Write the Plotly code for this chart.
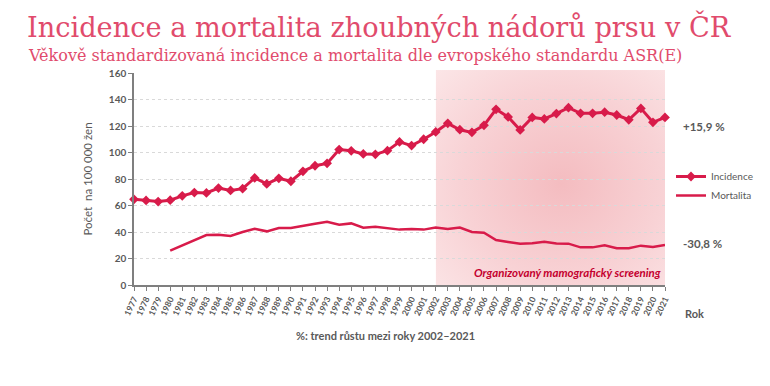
import base64
import plotly.graph_objects as go

years = list(range(1977, 2022))
incidence = [64.7, 63.8, 63.0, 64.0, 67.3, 69.8, 69.5, 73.2, 71.4, 72.7,
             80.8, 76.3, 80.5, 78.3, 85.8, 90.0, 91.8, 102.2, 101.3, 98.9,
             98.6, 101.4, 108.0, 105.2, 110.0, 115.5, 122.0, 117.2, 115.2, 120.5,
             132.6, 126.8, 117.0, 126.5, 125.3, 129.4, 133.8, 129.6, 129.6, 130.4,
             128.3, 124.7, 133.3, 122.8, 126.5]
mort_years = list(range(1980, 2022))
mortalita = [26.0, 30.0, 34.0, 37.7, 38.0, 37.0, 40.0, 42.4, 40.5, 43.0,
             43.0, 44.8, 46.2, 47.8, 45.5, 46.5, 43.3, 44.0, 42.8, 41.8,
             42.2, 41.8, 43.3, 42.3, 43.3, 40.0, 39.5, 34.0, 32.5, 31.2,
             31.5, 32.7, 31.3, 31.2, 28.4, 28.4, 30.0, 27.7, 27.7, 29.7,
             28.7, 30.2]
y_ticks = [0, 20, 40, 60, 80, 100, 120, 140, 160]

RED = "#D81B4A"
GRAY = "#595959"
FONT = "Lato"
SERIF = "DejaVu Serif"

svg = """<svg xmlns='http://www.w3.org/2000/svg' width='229' height='215' viewBox='0 0 229 215' preserveAspectRatio='none'>
<defs><radialGradient id='g' cx='0.55' cy='0.53' r='0.8'>
<stop offset='0' stop-color='#F4BCC0'/>
<stop offset='0.55' stop-color='#F8D2D5'/>
<stop offset='1' stop-color='#FCE8E9'/>
</radialGradient></defs>
<rect x='0' y='0' width='229' height='215' fill='url(#g)'/>
</svg>"""
src = "data:image/svg+xml;base64," + base64.b64encode(svg.encode()).decode()

fig = go.Figure()
fig.add_trace(go.Scatter(
    x=years, y=incidence, name="Incidence", mode="lines+markers",
    line=dict(color=RED, width=3),
    marker=dict(symbol="diamond", size=7.5, color=RED),
    cliponaxis=False,
))
fig.add_trace(go.Scatter(
    x=mort_years, y=mortalita, name="Mortalita", mode="lines",
    line=dict(color=RED, width=2.5),
    cliponaxis=False,
))

fig.add_layout_image(dict(
    source=src, xref="x", yref="paper", x=2002, y=1.014,
    sizex=19, sizey=1.014, sizing="stretch", xanchor="left", yanchor="top",
    layer="below",
))

annots = [
    dict(text="Incidence a mortalita zhoubných nádorů prsu v ČR", xref="paper", yref="paper",
         x=(25 - 134) / 531, y=(285 - 26) / 212, xanchor="left", yanchor="middle",
         showarrow=False, font=dict(family=SERIF, size=27.2, color="#E14B6C")),
    dict(text="Věkově standardizovaná incidence a mortalita dle evropského standardu ASR(E)",
         xref="paper", yref="paper",
         x=(26 - 134) / 531, y=(285 - 56) / 212, xanchor="left", yanchor="middle",
         showarrow=False, font=dict(family=SERIF, size=16.0, color="#E14B6C")),
    dict(text="<b>+15,9 %</b>", xref="paper", yref="y", x=(681 - 134) / 531, y=120,
         xanchor="left", yanchor="middle", showarrow=False,
         font=dict(family=FONT, size=11.5, color=GRAY)),
    dict(text="<b>-30,8 %</b>", xref="paper", yref="y", x=(681 - 134) / 531, y=31.7,
         xanchor="left", yanchor="middle", showarrow=False,
         font=dict(family=FONT, size=11.5, color=GRAY)),
    dict(text="<b>Rok</b>", xref="paper", yref="paper", x=(683 - 134) / 531, y=(285 - 313) / 212,
         xanchor="left", yanchor="middle", showarrow=False,
         font=dict(family=FONT, size=11, color=GRAY)),
    dict(text="<b>%: trend růstu mezi roky 2002–2021</b>", xref="paper", yref="paper",
         x=(385 - 134) / 531, y=(285 - 335) / 212,
         xanchor="center", yanchor="middle", showarrow=False,
         font=dict(family=FONT, size=11, color=GRAY)),
    dict(text="<b><i>Organizovaný mamografický screening</i></b>", xref="x", yref="y",
         x=2020.85, y=9.8, xanchor="right", yanchor="middle", showarrow=False,
         font=dict(family=FONT, size=11.5, color="#C4002E")),
]

fig.update_layout(
    width=770, height=386,
    margin=dict(l=134, r=105, t=73, b=101, autoexpand=False),
    paper_bgcolor="white", plot_bgcolor="rgba(0,0,0,0)",
    font=dict(family=FONT, color=GRAY),
    annotations=annots,
    showlegend=True,
    legend=dict(x=(671 - 134) / 531, y=(285 - 162) / 212, xanchor="left", yanchor="top",
                font=dict(family=FONT, size=10, color=GRAY), bgcolor="rgba(0,0,0,0)",
                itemwidth=30, tracegroupgap=0),
    xaxis=dict(
        range=[1977, 2021], tickmode="array", tickvals=years,
        ticktext=[f"<b>{y}</b>" for y in years], tickangle=-65,
        tickfont=dict(family=FONT, size=8.5, color=GRAY),
        showgrid=False, zeroline=False, automargin=False,
        showline=True, linecolor="#7F7F7F", linewidth=1.5,
        ticks="outside", ticklen=4, tickcolor="#7F7F7F", tickwidth=1.2,
    ),
    yaxis=dict(
        range=[0, 160], tickmode="array", tickvals=y_ticks,
        ticktext=[f"<b>{v}</b>" for v in y_ticks],
        tickfont=dict(family=FONT, size=10, color=GRAY),
        showgrid=True, gridcolor="#D9D9D9", griddash="dot", gridwidth=1,
        zeroline=False, automargin=False,
        showline=True, linecolor="#7F7F7F", linewidth=1.5,
        ticks="outside", ticklen=4, tickcolor="#7F7F7F", tickwidth=1.2,
        title=dict(text="Počet  na 100 000 žen", font=dict(family=FONT, size=11.5, color=GRAY),
                   standoff=14),
    ),
)

fig.write_html("out.html", config={"displayModeBar": False},
               post_script="document.body.style.margin='0';")
